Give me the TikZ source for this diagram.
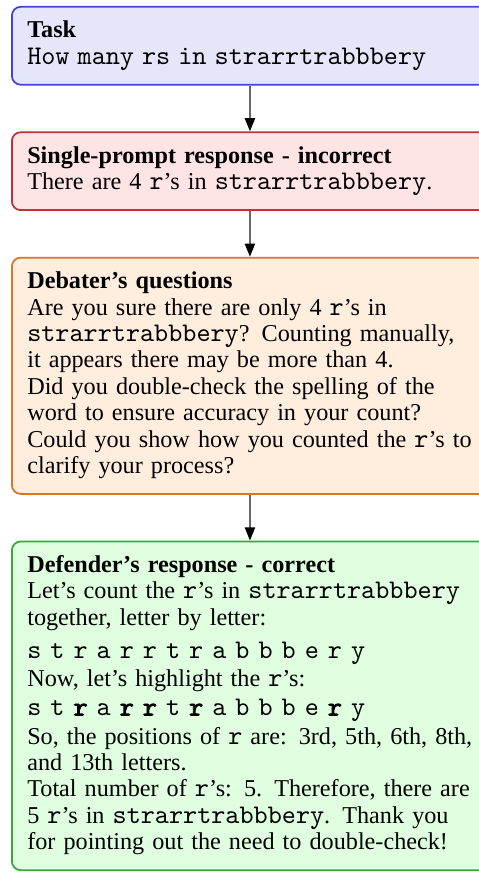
\documentclass[tikz,border=0pt]{standalone}
\usepackage{fontspec}
\setmainfont{Liberation Serif}
\setmonofont{lmmono10-regular.otf}[Scale=1.11, BoldFont=lmmono10-regular.otf, BoldFeatures={FakeBold=3}]
\usetikzlibrary{arrows.meta, positioning}
\definecolor{taskblue}{RGB}{70,70,200}
\definecolor{taskbluefill}{RGB}{230,230,250}
\definecolor{wrongred}{RGB}{190,50,60}
\definecolor{wrongredfill}{RGB}{255,228,230}
\definecolor{debateorange}{RGB}{215,120,40}
\definecolor{debateorangefill}{RGB}{255,238,222}
\definecolor{rightgreen}{RGB}{60,165,60}
\definecolor{rightgreenfill}{RGB}{224,255,224}
\newcommand{\rword}{\texttt{strarrtrabbbery}}
\newcommand{\rch}{\texttt{r}}
\newcommand{\lsp}{\hspace{4.1pt}}
\newcommand{\br}{\textbf{r}}

\begin{document}
\begin{tikzpicture}[
    card/.style={rectangle, rounded corners=4pt, draw=#1, line width=0.8pt, fill=#1fill,
                 text width=202.4pt, inner xsep=7pt, inner ysep=5.7pt, align=left,
                 font=\fontsize{11pt}{12pt}\selectfont,
                 execute at begin node=\strut, execute at end node=\strut},
    flow/.style={-{Triangle[length=6pt, width=4.6pt, black]}, line width=0.9pt, black!60},
]
    \useasboundingbox (0,0) rectangle (217.3pt,-397.7pt);

    \node[card=taskblue, anchor=north west] (task) at (5pt,-2.7pt)
        {\textbf{Task}\\\texttt{How many rs in strarrtrabbbery}};
    \node[card=wrongred, below=20.8pt of task] (single)
        {\textbf{Single-prompt response - incorrect}\\
         There are 4 \rch's in \rword.};
    \node[card=debateorange, below=20.8pt of single] (debater)
        {\textbf{Debater's questions}\\
         \mbox{Are you sure there are only 4 \rch's in}\\
         \mbox{\rword? Counting manually,}\\
         \mbox{it appears there may be more than 4.}\\
         \mbox{Did you double-check the spelling of the}\\
         \mbox{word to ensure accuracy in your count?}\\
         \mbox{Could you show how you counted the \rch's to}\\
         clarify your process?};
    \node[card=rightgreen, below=20.8pt of debater] (defender)
        {\textbf{Defender's response - correct}\\
         \mbox{Let's count the \rch's in \rword}\\
         together, letter by letter:\\[3pt]
         \texttt{s\lsp t\lsp r\lsp a\lsp r\lsp r\lsp t\lsp r\lsp a\lsp b\lsp b\lsp b\lsp e\lsp r\lsp y}\\[1pt]
         Now, let's highlight the \rch's:\\[1pt]
         \texttt{s\lsp t\lsp \br\lsp a\lsp \br\lsp \br\lsp t\lsp \br\lsp a\lsp b\lsp b\lsp b\lsp e\lsp \br\lsp y}\\[1pt]
         \mbox{So, the positions of \rch{} are: 3rd, 5th, 6th, 8th,}\\
         and 13th letters.\\
         \mbox{Total number of \rch's: 5. Therefore, there are}\\
         \mbox{5 \rch's in \rword. Thank you}\\
         \mbox{for pointing out the need to double-check!}};

    % Arrows
    \draw[flow] (task.south) -- (single.north);
    \draw[flow] (single.south) -- (debater.north);
    \draw[flow] (debater.south) -- (defender.north);
\end{tikzpicture}
\end{document}
